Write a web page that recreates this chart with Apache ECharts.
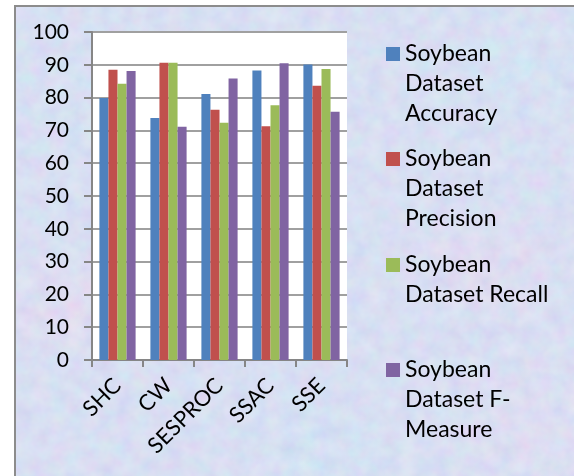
<!DOCTYPE html>
<html>
<head>
<meta charset="utf-8">
<script src="https://cdn.jsdelivr.net/npm/echarts@6/dist/echarts.min.js"></script>
<style>
  html, body { margin: 0; padding: 0; background: #ffffff; }
  #frame {
    position: absolute; left: 14px; top: 5px; width: 560px; height: 471px;
    border-left: 2px solid #8c8c8c; border-top: 2px solid #8c8c8c;
    box-sizing: border-box;
    background:
      radial-gradient(ellipse 120px 90px at 60px 300px, rgba(235,200,235,0.55), rgba(235,200,235,0) 70%),
      radial-gradient(ellipse 140px 100px at 470px 260px, rgba(230,200,235,0.5), rgba(230,200,235,0) 70%),
      radial-gradient(ellipse 160px 110px at 120px 80px, rgba(190,225,245,0.6), rgba(190,225,245,0) 70%),
      radial-gradient(ellipse 150px 120px at 520px 420px, rgba(220,205,240,0.6), rgba(220,205,240,0) 70%),
      radial-gradient(ellipse 130px 100px at 300px 440px, rgba(185,220,245,0.6), rgba(185,220,245,0) 70%),
      radial-gradient(ellipse 110px 90px at 500px 60px, rgba(190,225,245,0.6), rgba(190,225,245,0) 70%),
      #cad4f2;
  }
  #grain {
    position: absolute; left: 16px; top: 7px; width: 558px; height: 469px; opacity: 0.5;
    background-image: url("data:image/svg+xml;utf8,<svg xmlns='http://www.w3.org/2000/svg' width='558' height='469'><filter id='n'><feTurbulence type='fractalNoise' baseFrequency='0.06' numOctaves='3' seed='4'/><feColorMatrix type='matrix' values='0.45 0 0 0 0.6  0 0.45 0 0 0.62  0 0 0.2 0 0.8  0 0 0 0 0.9'/></filter><rect width='100%' height='100%' filter='url(%23n)'/></svg>");
  }
  #chart { position: absolute; left: 0; top: 0; width: 574px; height: 476px; }
</style>
</head>
<body>
<div id="frame"></div>
<div id="grain"></div>
<div id="chart"></div>
<script>
// Methods compared on the Soybean dataset
const categories = ['SHC', 'CW', 'SESPROC', 'SSAC', 'SSE'];
const accuracy  = [79.9, 73.8, 81.1, 88.3, 90.1];
const precision = [88.5, 90.6, 76.3, 71.3, 83.6];
const recall    = [84.2, 90.6, 72.3, 77.7, 88.7];
const fMeasure  = [88.1, 71.1, 85.8, 90.5, 75.7];
const seriesNames = [
  'Soybean Dataset Accuracy',
  'Soybean Dataset Precision',
  'Soybean Dataset Recall',
  'Soybean Dataset F-Measure'
];
const legendLabels = [
  'Soybean\nDataset\nAccuracy',
  'Soybean\nDataset\nPrecision',
  'Soybean\nDataset Recall',
  'Soybean\nDataset F-\nMeasure'
];
const colors = ['#4f81bd', '#c0504d', '#9bbb59', '#8064a2'];
const yTicks = { min: 0, max: 100, step: 10 };

const FONT = 'Lato';
const LINE_H = 30;
const values = [accuracy, precision, recall, fMeasure];

const chart = echarts.init(document.getElementById('chart'), null, { renderer: 'canvas' });

// The swatch is centred on the label block, so blank lines are put in front
// of each label to balance the lines below the first one.
const firstLineTops = [39, 144, 250, 355];
const legends = seriesNames.map((name, i) => {
  const below = legendLabels[i].split('\n').length - 1;
  const text = '\n'.repeat(below) + legendLabels[i];
  return {
    data: [name],
    left: 386,
    top: firstLineTops[i] - below * LINE_H,
    padding: 0,
    orient: 'vertical',
    itemWidth: 14,
    itemHeight: 14,
    itemGap: 0,
    icon: 'rect',
    selectedMode: false,
    formatter: () => text,
    textStyle: { fontFamily: FONT, fontSize: 23, color: '#000', lineHeight: LINE_H }
  };
});

chart.setOption({
  backgroundColor: 'transparent',
  animation: false,
  color: colors,
  legend: legends,
  grid: { left: 92, top: 32, right: 227, bottom: 116, containLabel: false, show: true, backgroundColor: '#ffffff', borderWidth: 0 },
  xAxis: {
    type: 'category',
    data: categories,
    axisLine: { lineStyle: { color: '#868686', width: 2 } },
    axisTick: { show: true, length: 7, lineStyle: { color: '#868686', width: 2 } },
    axisLabel: { rotate: 45, fontFamily: FONT, fontSize: 22, color: '#000', margin: 22 },
    splitLine: { show: false }
  },
  yAxis: {
    type: 'value',
    min: yTicks.min,
    max: yTicks.max,
    interval: yTicks.step,
    axisLine: { show: true, lineStyle: { color: '#868686', width: 2 } },
    axisTick: { show: true, length: 8, lineStyle: { color: '#868686', width: 2 } },
    axisLabel: { fontFamily: FONT, fontSize: 21, color: '#000', margin: 23 },
    splitLine: { show: true, lineStyle: { color: '#a0a0a0', width: 2 } }
  },
  series: seriesNames.map((name, i) => ({
    name: name,
    type: 'bar',
    data: values[i],
    barGap: '0%',
    barCategoryGap: '29%',
    itemStyle: { color: colors[i] }
  }))
});
</script>
</body>
</html>
